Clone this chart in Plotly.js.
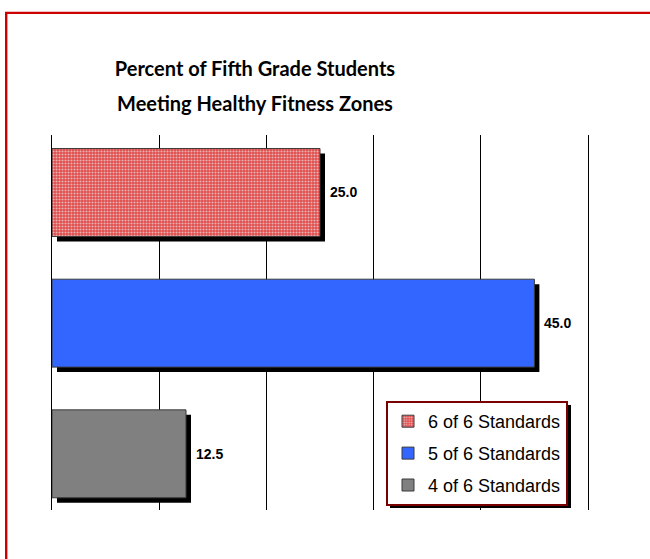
<!DOCTYPE html>
<html>
<head>
<meta charset="utf-8">
<script src="https://cdn.plot.ly/plotly-3.0.1.min.js"></script>
<style>
  html, body { margin: 0; padding: 0; background: #ffffff; }
  #chart { width: 650px; height: 559px; }
</style>
</head>
<body>
<div id="chart"></div>
<script>
// ---- data ----
var categories = ['6 of 6 Standards', '5 of 6 Standards', '4 of 6 Standards'];
var values = [25.0, 45.0, 12.5];
var chartTitle = ['Percent of Fifth Grade Students', 'Meeting Healthy Fitness Zones'];

// ---- styles ----
var barColors = ['#df4d4d', '#3366ff', '#808080'];
var W = 650, H = 559;
var M = {l: 52, r: 62, t: 135, b: 49};
var plotW = W - M.l - M.r, plotH = H - M.t - M.b;
var xRange = [0, 50];
var yRange = [2.43, -0.44];
var barWidth = 0.673;
var shadowPx = 5;
var dx = shadowPx * (xRange[1] - xRange[0]) / plotW;
var dy = shadowPx * (yRange[0] - yRange[1]) / plotH;

function px2paperX(px) { return (px - M.l) / plotW; }
function px2paperY(py) { return (H - M.b - py) / plotH; }

var positions = categories.map(function (c, i) { return i; });

var traces = [];
// shadows
traces.push({
  type: 'bar', orientation: 'h',
  y: positions, x: values, base: dx,
  width: barWidth, offset: -barWidth / 2 + dy,
  marker: {color: '#000000', line: {width: 0}},
  showlegend: false, hoverinfo: 'skip'
});
categories.forEach(function (c, i) {
  var tr = {
    type: 'bar', orientation: 'h', name: c, legendgroup: 'g' + i,
    y: [positions[i]], x: [values[i]],
    width: barWidth, offset: -barWidth / 2,
    marker: {color: barColors[i], line: {color: '#3a3a3a', width: 1}}
  };
  if (i === 0) {
    tr.marker.pattern = {shape: '.', fillmode: 'replace', bgcolor: '#e04a4a',
                         fgcolor: '#e9b4b4', fgopacity: 1, size: 3, solidity: 0.4};
  }
  traces.push(tr);
});

var annotations = values.map(function (v, i) {
  return {
    x: v, y: positions[i], xref: 'x', yref: 'y',
    text: v.toFixed(1), showarrow: false,
    xanchor: 'left', yanchor: 'middle', xshift: 8,
    font: {family: 'Liberation Sans, Arial, sans-serif', size: 14, color: '#000000', weight: 'bold'}
  };
});

var legendBox = {x0: 386, y0: 401, x1: 567, y1: 504};

var layout = {
  width: W, height: H,
  margin: M,
  paper_bgcolor: '#ffffff', plot_bgcolor: '#ffffff',
  barmode: 'overlay',
  title: {
    text: chartTitle.map(function (t) { return "<span style='font-size:20px'>" + t + "</span>"; }).join('<br>'),
    font: {family: 'Lato, Liberation Sans, sans-serif', size: 27, color: '#000000', weight: 'bold'},
    x: 255 / W, xanchor: 'center', xref: 'container',
    y: 1 - 76 / H, yanchor: 'top', yref: 'container'
  },
  xaxis: {
    range: xRange, dtick: 10, tick0: 0,
    showgrid: true, gridcolor: '#000000', gridwidth: 1,
    zeroline: false,
    showline: false, showticklabels: false, ticks: '', fixedrange: true
  },
  yaxis: {
    range: yRange, showgrid: false, zeroline: false,
    showline: true, mirror: true, linecolor: '#000000', linewidth: 1,
    showticklabels: false, ticks: '', fixedrange: true
  },
  showlegend: true,
  legend: {
    x: px2paperX(legendBox.x0), y: px2paperY(legendBox.y0),
    xanchor: 'left', yanchor: 'top',
    bgcolor: '#ffffff', bordercolor: '#7a0000', borderwidth: 2,
    font: {family: 'Liberation Sans, Arial, sans-serif', size: 18, color: '#000000'},
    tracegroupgap: 5.5, traceorder: 'grouped'
  },
  annotations: annotations,
  shapes: [
    // legend shadow
    {type: 'rect', xref: 'paper', yref: 'paper', layer: 'above',
     x0: px2paperX(legendBox.x0 + 4), x1: px2paperX(legendBox.x1 + 4),
     y0: px2paperY(legendBox.y0 + 4), y1: px2paperY(legendBox.y1 + 4),
     fillcolor: '#000000', line: {width: 0}},
    // outer red frame
    {type: 'rect', xref: 'paper', yref: 'paper', layer: 'above',
     x0: px2paperX(6.2), x1: px2paperX(720),
     y0: px2paperY(640), y1: px2paperY(12.9),
     fillcolor: 'rgba(0,0,0,0)', line: {color: '#cc0000', width: 2.4}}
  ]
};

Plotly.newPlot('chart', traces, layout, {displayModeBar: false, staticPlot: true});
</script>
</body>
</html>
